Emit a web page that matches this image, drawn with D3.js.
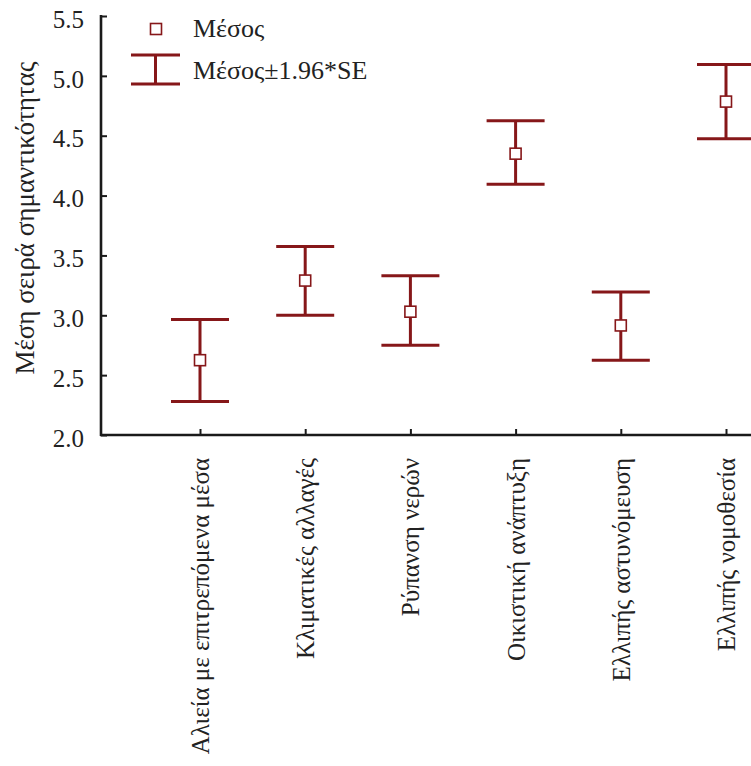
<!DOCTYPE html>
<html>
<head>
<meta charset="utf-8">
<script src="https://cdn.jsdelivr.net/npm/d3@7"></script>
<style>
  body { margin: 0; background: #fff; }
</style>
</head>
<body>
<svg id="chart" width="751" height="766"></svg>
<script>
// categories and values
const categories = ["Αλιεία με επιτρεπόμενα μέσα", "Κλιματικές αλλαγές", "Ρύπανση νερών",
  "Οικιστική ανάπτυξη", "Ελλιπής αστυνόμευση", "Ελλιπής νομοθεσία"];
const means = [2.625, 3.29, 3.03, 4.35, 2.915, 4.785];
const lower = [2.28, 3.0, 2.75, 4.095, 2.625, 4.475];
const upper = [2.965, 3.575, 3.33, 4.625, 3.195, 5.095];
const yTicks = [2.0, 2.5, 3.0, 3.5, 4.0, 4.5, 5.0, 5.5];
const legendLabels = ["Μέσος", "Μέσος±1.96*SE"];

const red = "#861719";
const ink = "#222";
const serif = "'Liberation Serif', 'Times New Roman', serif";
const svg = d3.select("#chart");

const x = d3.scalePoint().domain(categories).range([200, 726]);
const y = d3.scaleLinear().domain([2.0, 5.5]).range([435, 16]);
const axisX = 101;

// y axis, ticks pointing inward
const yAxis = svg.append("g")
  .attr("transform", `translate(${axisX},0)`)
  .call(d3.axisRight(y).tickValues(yTicks).tickSize(6).tickFormat(d3.format(".1f")));
yAxis.select(".domain").remove();
yAxis.selectAll(".tick line").attr("stroke", "#1a1a1a").attr("stroke-width", 2);
yAxis.selectAll(".tick text")
  .attr("x", -17).attr("dy", "0.45em").attr("text-anchor", "end")
  .style("font-family", serif).style("font-size", "25px").attr("fill", ink);
svg.append("line")
  .attr("x1", axisX).attr("x2", axisX)
  .attr("y1", y(5.5) - 1).attr("y2", y(2.0) + 1)
  .attr("stroke", "#1a1a1a").attr("stroke-width", 2.6);

// x axis
const xAxis = svg.append("g")
  .attr("transform", `translate(0,${y(2.0)})`)
  .call(d3.axisTop(x).tickSize(6).tickFormat(""));
xAxis.select(".domain").remove();
xAxis.selectAll(".tick line").attr("stroke", "#1a1a1a").attr("stroke-width", 2);
svg.append("line")
  .attr("x1", axisX - 1).attr("x2", 751)
  .attr("y1", y(2.0)).attr("y2", y(2.0))
  .attr("stroke", "#1a1a1a").attr("stroke-width", 2.6);

svg.append("g").selectAll("text")
  .data(categories)
  .join("text")
  .attr("transform", d => `translate(${x(d) + 9},458) rotate(-90)`)
  .attr("text-anchor", "end")
  .style("font-family", serif)
  .style("font-size", "25px")
  .attr("fill", ink)
  .text(d => d);

// y title
svg.append("text")
  .attr("transform", "translate(34,218) rotate(-90)")
  .attr("text-anchor", "middle")
  .style("font-family", serif)
  .style("font-size", "27px")
  .attr("fill", ink)
  .text("Μέση σειρά σημαντικότητας");

// error bars
const capW = 29;
const bars = svg.append("g").selectAll("g")
  .data(categories)
  .join("g");
bars.append("line")
  .attr("x1", d => x(d)).attr("x2", d => x(d))
  .attr("y1", (d, i) => y(upper[i])).attr("y2", (d, i) => y(lower[i]))
  .attr("stroke", red).attr("stroke-width", 3);
bars.append("line")
  .attr("x1", d => x(d) - capW).attr("x2", d => x(d) + capW)
  .attr("y1", (d, i) => y(upper[i])).attr("y2", (d, i) => y(upper[i]))
  .attr("stroke", red).attr("stroke-width", 3);
bars.append("line")
  .attr("x1", d => x(d) - capW).attr("x2", d => x(d) + capW)
  .attr("y1", (d, i) => y(lower[i])).attr("y2", (d, i) => y(lower[i]))
  .attr("stroke", red).attr("stroke-width", 3);
bars.append("rect")
  .attr("x", d => x(d) - 5.5).attr("y", (d, i) => y(means[i]) - 5.5)
  .attr("width", 11).attr("height", 11)
  .attr("fill", "#fff").attr("stroke", red).attr("stroke-width", 1.6);

// legend
const lg = svg.append("g");
lg.append("rect")
  .attr("x", 150.5).attr("y", 23.5).attr("width", 11).attr("height", 11)
  .attr("fill", "#fff").attr("stroke", red).attr("stroke-width", 1.6);
lg.append("line").attr("x1", 131).attr("x2", 180).attr("y1", 55).attr("y2", 55)
  .attr("stroke", red).attr("stroke-width", 3);
lg.append("line").attr("x1", 131).attr("x2", 180).attr("y1", 84).attr("y2", 84)
  .attr("stroke", red).attr("stroke-width", 3);
lg.append("line").attr("x1", 155.5).attr("x2", 155.5).attr("y1", 55).attr("y2", 84)
  .attr("stroke", red).attr("stroke-width", 3);
lg.selectAll("text")
  .data(legendLabels)
  .join("text")
  .attr("x", 193)
  .attr("y", (d, i) => i === 0 ? 37 : 79)
  .style("font-family", serif)
  .style("font-size", "26px")
  .attr("fill", ink)
  .text(d => d);
</script>
</body>
</html>
